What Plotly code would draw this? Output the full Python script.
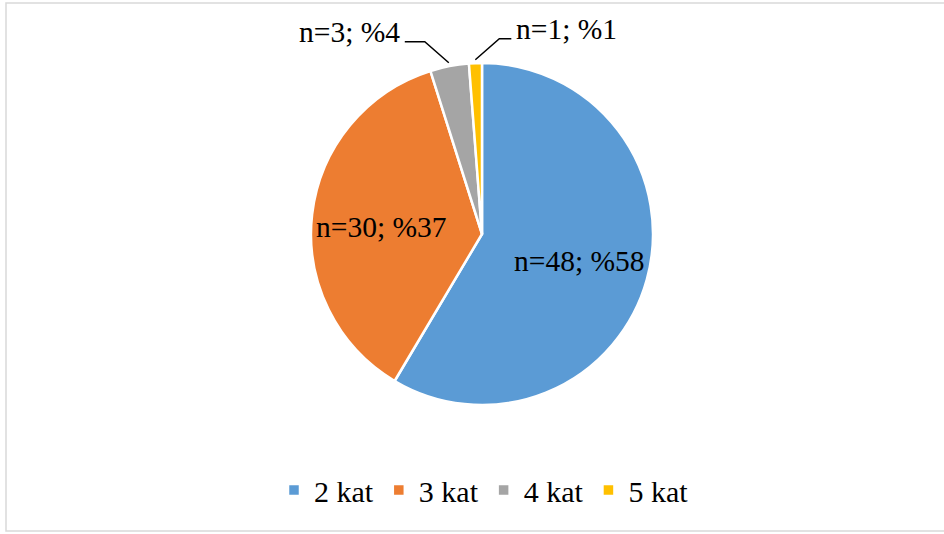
import math
import plotly.graph_objects as go

# ---- data ----
categories = ["2 kat", "3 kat", "4 kat", "5 kat"]
counts = [48, 30, 3, 1]
percents = [58, 37, 4, 1]

# ---- style ----
colors = ["#5B9BD5", "#ED7D31", "#A5A5A5", "#FFC000"]
FONT = "Liberation Serif"
W, H = 944, 534
CX, CY, R = 482, 234, 171          # pie centre / radius in px
label_mode = ["inside", "inside", "outside_left", "outside_right"]
label_nudge_y = [0, 5, 0, 0]       # px tweaks for label placement
leader_hlen = [0, 0, 20, 12]       # horizontal leader segment length (px)

def px(x):
    return x / W

def py(y):
    return 1 - y / H

fig = go.Figure(go.Pie(
    labels=categories,
    values=counts,
    sort=False,
    direction="clockwise",
    rotation=0,
    marker=dict(colors=colors, line=dict(color="white", width=2.5)),
    textinfo="none",
    hoverinfo="label+value",
    domain=dict(x=[px(CX - R), px(CX + R)], y=[py(CY + R), py(CY - R)]),
))

annotations = []
shapes = []
total = sum(counts)
cum = 0
for i, v in enumerate(counts):
    mid = (cum + v / 2) / total * 2 * math.pi
    cum += v
    dx, dy = math.sin(mid), -math.cos(mid)
    text = f"n={counts[i]}; %{percents[i]}"
    if label_mode[i] == "inside":
        x = CX + 0.59 * R * dx
        y = CY + 0.59 * R * dy + label_nudge_y[i]
        annotations.append(dict(x=px(x), y=py(y), xref="paper", yref="paper",
                                text=text, showarrow=False,
                                font=dict(family=FONT, size=29.5, color="black"),
                                xanchor="center", yanchor="middle"))
    else:
        p0x = CX + 1.02 * R * dx
        p0y = CY + 1.02 * R * dy
        sgn = -1 if label_mode[i] == "outside_left" else 1
        ex, ey = p0x + sgn * 24, p0y - 21
        hx = ex + sgn * leader_hlen[i]
        shapes.append(dict(type="path", xref="paper", yref="paper",
                           path=f"M {px(p0x)},{py(p0y)} L {px(ex)},{py(ey)} L {px(hx)},{py(ey)}",
                           line=dict(color="black", width=1.5)))
        annotations.append(dict(x=px(hx + sgn * 3), y=py(ey - 10), xref="paper", yref="paper",
                                text=text, showarrow=False,
                                font=dict(family=FONT, size=29.5, color="black"),
                                xanchor="right" if sgn < 0 else "left", yanchor="middle"))

# chart border
shapes.append(dict(type="rect", xref="paper", yref="paper",
                   x0=px(6), x1=px(952), y0=py(531), y1=py(3),
                   line=dict(color="#D9D9D9", width=1.5)))

fig.update_layout(
    width=W, height=H,
    margin=dict(l=0, r=0, t=0, b=0),
    paper_bgcolor="white",
    plot_bgcolor="white",
    font=dict(family=FONT, size=29.5, color="black"),
    showlegend=True,
    legend=dict(orientation="h", x=px(484), xanchor="center",
                y=py(490), yanchor="middle",
                font=dict(family=FONT, size=30, color="black"),
                itemwidth=30, tracegroupgap=0, traceorder="normal"),
    annotations=annotations,
    shapes=shapes,
)

fig.write_html("out.html")
